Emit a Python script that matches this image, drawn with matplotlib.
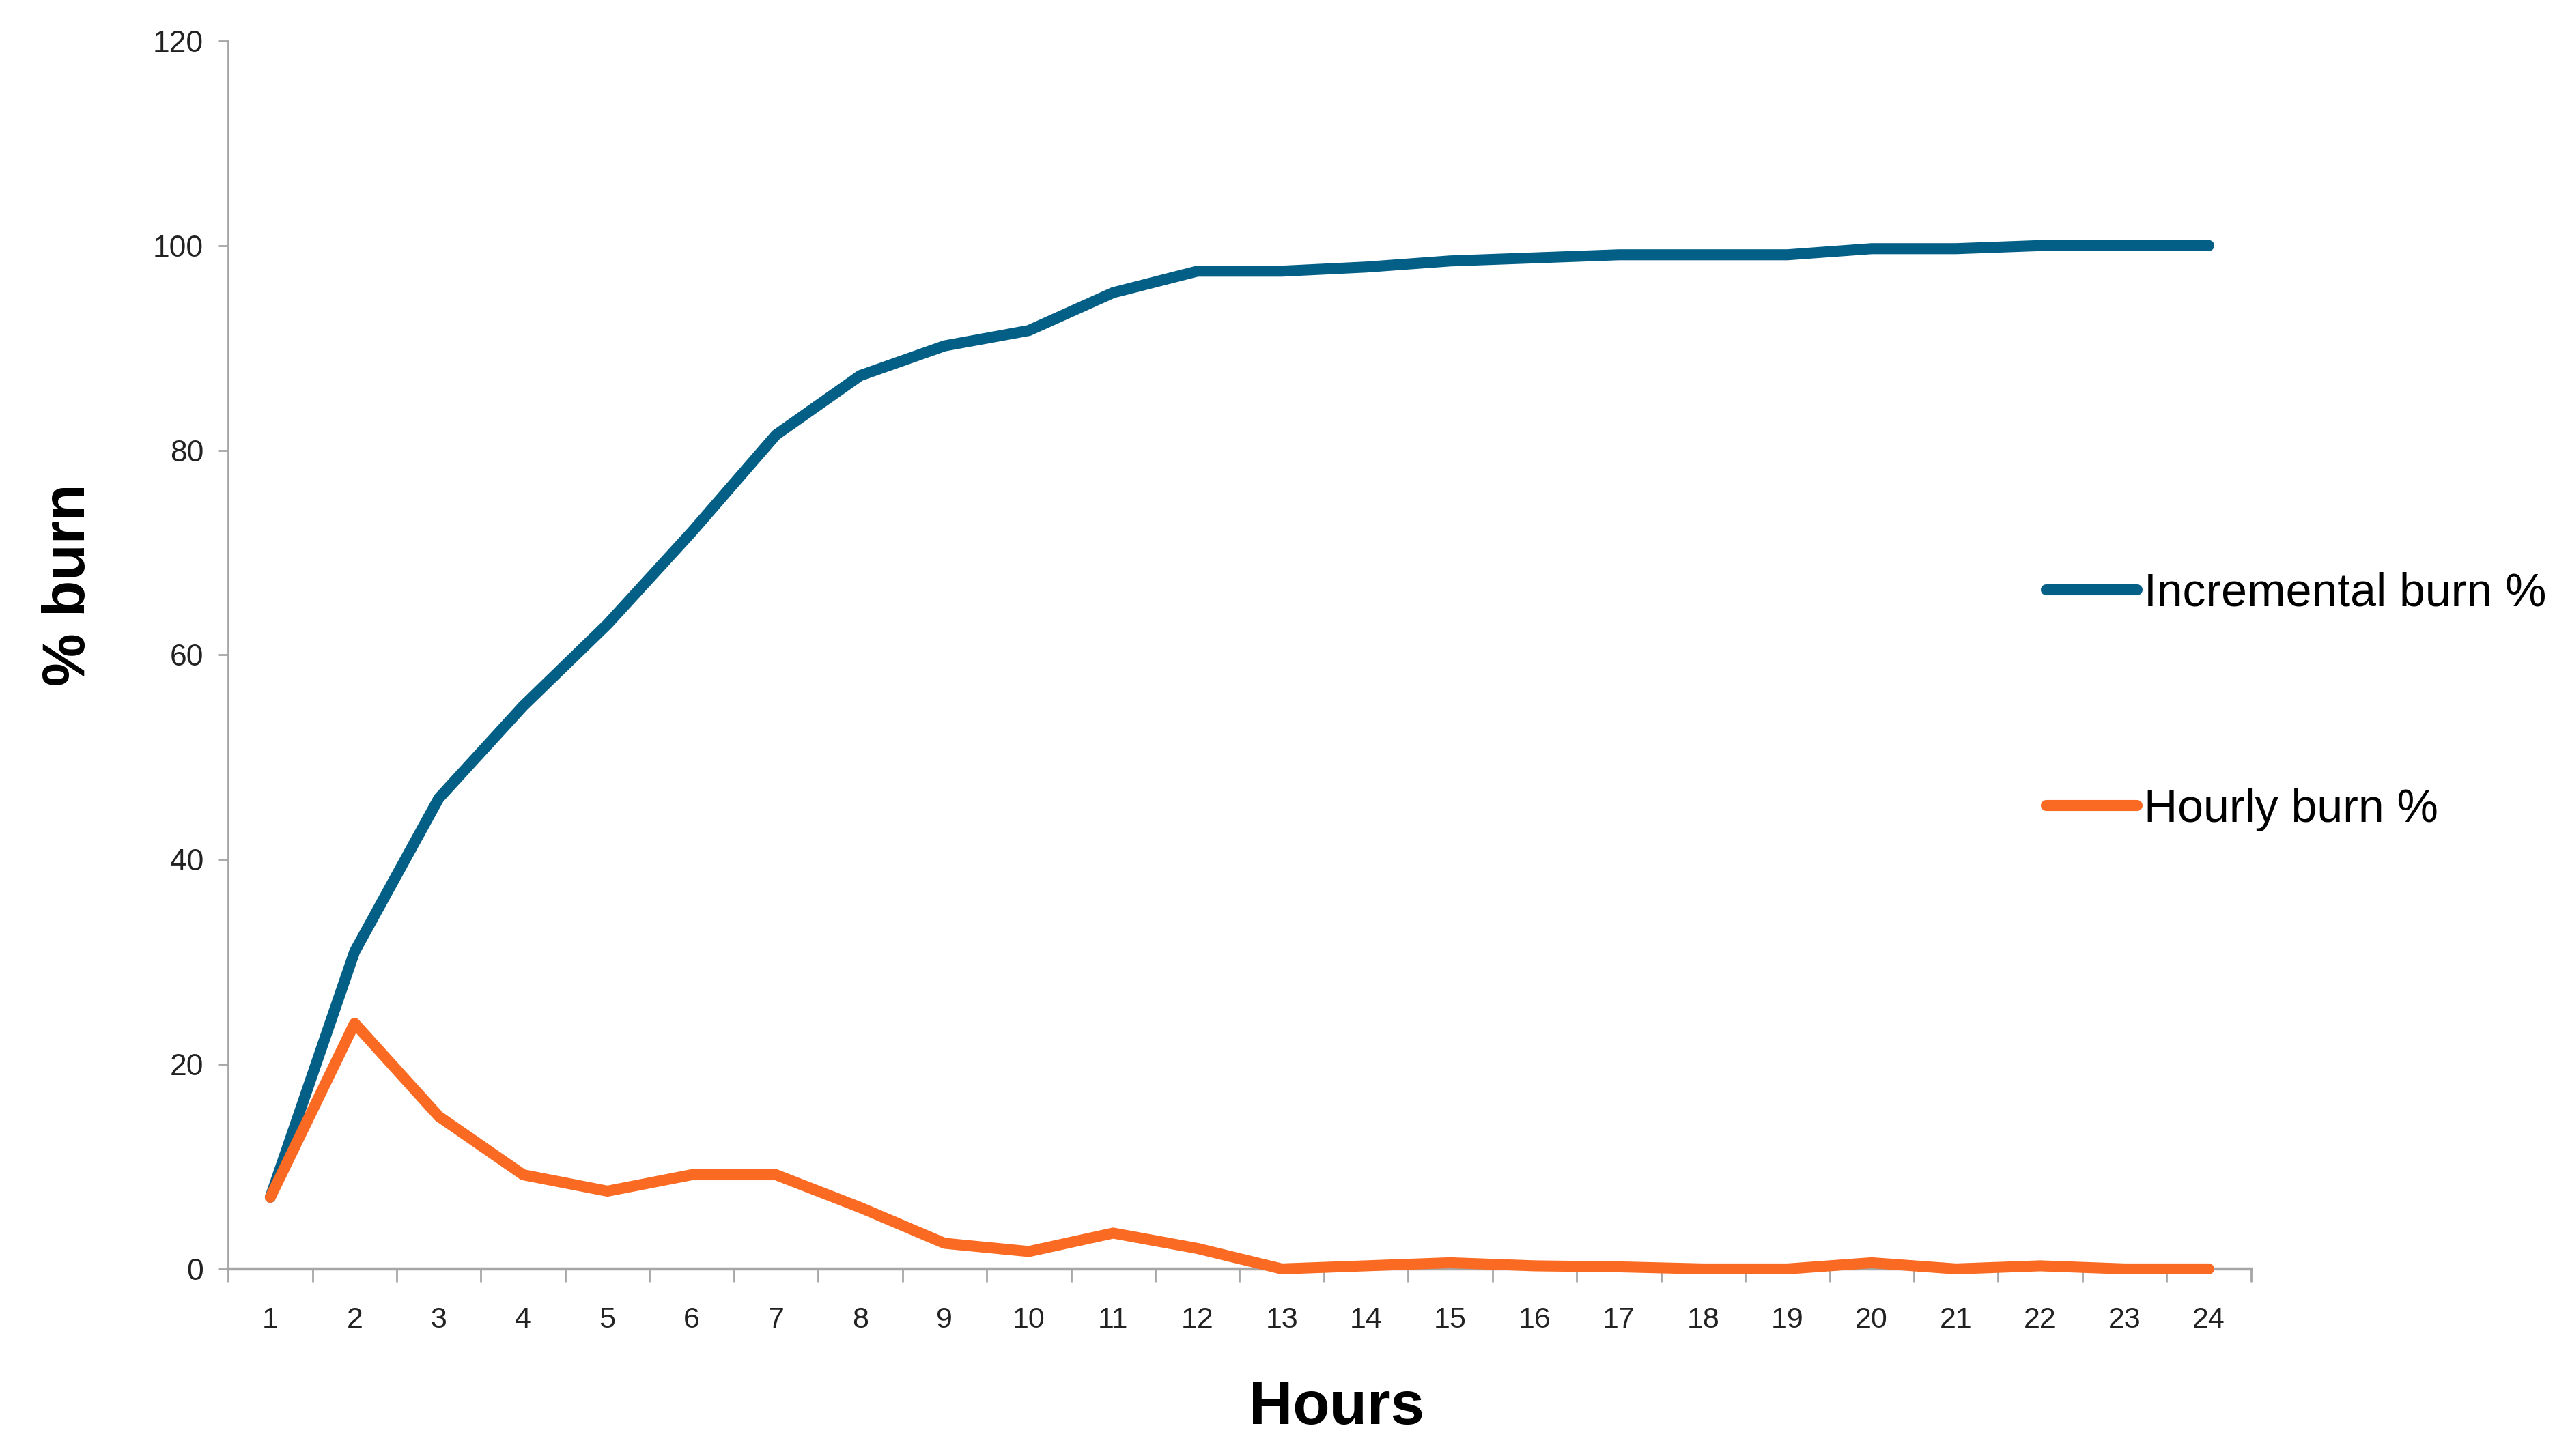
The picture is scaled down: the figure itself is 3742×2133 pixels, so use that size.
import matplotlib.pyplot as plt

# values
hours = list(range(1, 25))
incremental_burn = [7, 31, 46, 55, 63, 72, 81.5, 87.3, 90.2, 91.7, 95.4, 97.5,
                    97.5, 97.9, 98.5, 98.8, 99.1, 99.1, 99.1, 99.7, 99.7, 100, 100, 100]
hourly_burn = [7, 24, 14.9, 9.2, 7.6, 9.2, 9.2, 6.0, 2.5, 1.7, 3.5, 2.0,
               0, 0.3, 0.6, 0.3, 0.2, 0, 0, 0.6, 0, 0.3, 0, 0]
y_ticks = [0, 20, 40, 60, 80, 100, 120]

plt.rcParams['font.family'] = ['Liberation Sans', 'DejaVu Sans']

fig = plt.figure(figsize=(18.71, 10.665), dpi=200)
ax = fig.add_subplot(111)
fig.subplots_adjust(left=0.0893, right=0.881, top=0.9719, bottom=0.1285)

ax.plot(hours, incremental_burn, color='#035F86', lw=5.8, label='Incremental burn %',
        solid_capstyle='round', solid_joinstyle='round', clip_on=False, zorder=4)
ax.plot(hours, hourly_burn, color='#FA6A22', lw=5.8, label='Hourly burn %',
        solid_capstyle='round', solid_joinstyle='round', clip_on=False, zorder=4)

ax.set_xlim(0.5, 24.5)
ax.set_ylim(0, 120)
ax.set_yticks(y_ticks)
ax.set_xticks(hours)
ax.set_xticks([h - 0.5 for h in hours] + [24.5], minor=True)
ax.tick_params(axis='x', which='major', length=0, pad=20, labelsize=15.5, colors='#222222')
ax.tick_params(axis='x', which='minor', length=7, width=1, color='#A6A6A6')
ax.tick_params(axis='y', length=5, width=1, color='#A6A6A6', pad=8, labelsize=16,
               labelcolor='#222222')

for side in ['top', 'right']:
    ax.spines[side].set_visible(False)
ax.spines['left'].set_color('#A6A6A6')
ax.spines['left'].set_linewidth(1)
ax.spines['bottom'].set_color('#A6A6A6')
ax.spines['bottom'].set_linewidth(1.6)

ax.set_ylabel('% burn', fontsize=31.5, fontweight='bold')
ax.yaxis.set_label_coords(-0.065, 0.557)
ax.set_xlabel('Hours', fontsize=32, fontweight='bold')
ax.xaxis.set_label_coords(0.548, -0.090)

leg = ax.legend(loc='center left', bbox_to_anchor=(0.899, 0.462), frameon=False,
                fontsize=24.5, handlelength=1.95, handletextpad=0.15, labelspacing=3.7,
                borderpad=0, borderaxespad=0)
for line in leg.get_lines():
    line.set_solid_capstyle('round')

plt.savefig('out.png')
